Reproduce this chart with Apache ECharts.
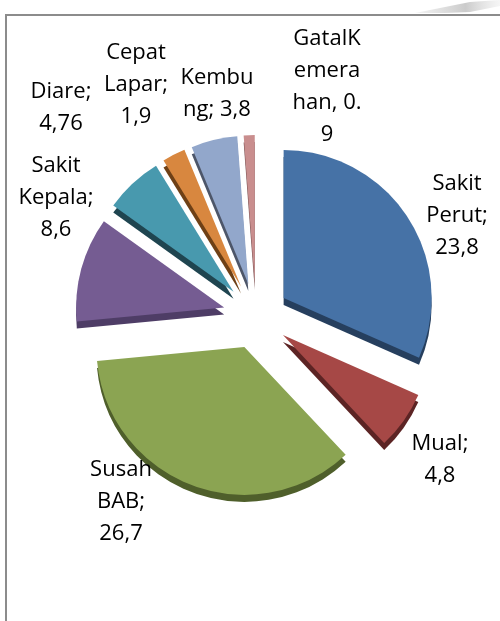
<!DOCTYPE html>
<html>
<head>
<meta charset="utf-8">
<script src="https://cdn.jsdelivr.net/npm/echarts@6/dist/echarts.min.js"></script>
<style>
  html, body { margin: 0; background: #fff; }
  #chart { width: 500px; height: 621px; }
</style>
</head>
<body>
<div id="chart"></div>
<script>
  // data
  var categories = ['Sakit Perut', 'Mual', 'Susah BAB', 'Sakit Kepala', 'Diare', 'Cepat Lapar', 'Kembung', 'GatalKemerahan'];
  var values = [23.8, 4.8, 26.7, 8.6, 4.76, 1.9, 3.8, 0.9];
  // label text as wrapped in the original
  var labelTexts = ['Sakit\nPerut;\n23,8', 'Mual;\n4,8', 'Susah\nBAB;\n26,7', 'Sakit\nKepala;\n8,6',
    'Diare;\n4,76', 'Cepat\nLapar;\n1,9', 'Kembu\nng; 3,8', 'GatalK\nemera\nhan, 0.\n9'];

  var topColors = ['#4672a6', '#a64846', '#8ba452', '#755c92', '#4899ae', '#d8873f', '#92a7cb', '#c98e8e'];
  var sideColors = ['#263f5e', '#5c2424', '#4f5f2b', '#4e3d66', '#1f4550', '#6e4016', '#4d5669', '#7a5252'];
  // centres of the label blocks (Excel "best fit" spots)
  var labelSpots = [[457, 216], [440, 460], [121, 502], [56, 198], [61, 108], [136, 85], [217, 94], [327, 87]];

  var font = '"Open Sans", sans-serif';
  var cx = 256, cy = 316, r = 148;

  var chart = echarts.init(document.getElementById('chart'));

  function slices(colors) {
    return values.map(function (v, i) {
      return { name: categories[i], value: v, selected: true, itemStyle: { color: colors[i] } };
    });
  }

  var labels = labelTexts.map(function (t, i) {
    return {
      type: 'text',
      z: 10,
      style: {
        text: t,
        x: labelSpots[i][0],
        y: labelSpots[i][1],
        align: 'center',
        verticalAlign: 'middle',
        fontFamily: font,
        fontSize: 22,
        lineHeight: 32,
        fill: '#000'
      }
    };
  });

  chart.setOption({
    animation: false,
    graphic: [
      {
        type: 'rect',
        shape: { x: 6, y: 15, width: 560, height: 660 },
        style: { fill: 'none', stroke: '#8c8c8c', lineWidth: 2 },
        z: 0
      },
      {
        type: 'polygon',
        shape: { points: [[415, 13], [470, 2], [500, 0], [500, 6], [470, 12], [445, 13]] },
        style: {
          fill: new echarts.graphic.LinearGradient(0, 0, 1, 0, [
            { offset: 0, color: 'rgba(200,200,200,0.2)' },
            { offset: 0.6, color: 'rgba(190,190,190,0.8)' },
            { offset: 1, color: 'rgba(230,230,230,0.4)' }
          ])
        },
        z: 0
      }
    ].concat(labels),
    series: [
      {
        // dark under-copy gives the 3D edge
        type: 'pie',
        silent: true,
        z: 1,
        center: [cx, cy + 7],
        radius: r,
        startAngle: 90,
        clockwise: true,
        selectedMode: 'multiple',
        selectedOffset: 33,
        label: { show: false },
        labelLine: { show: false },
        data: slices(sideColors)
      },
      {
        type: 'pie',
        z: 2,
        center: [cx, cy],
        radius: r,
        startAngle: 90,
        clockwise: true,
        selectedMode: 'multiple',
        selectedOffset: 33,
        emphasis: { disabled: true },
        label: { show: false },
        labelLine: { show: false },
        data: slices(topColors)
      }
    ]
  });
</script>
</body>
</html>
